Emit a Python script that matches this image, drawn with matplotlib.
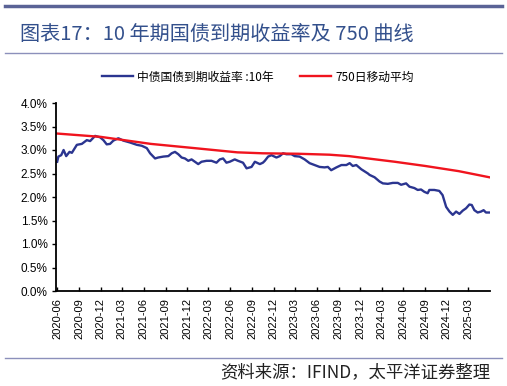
import pandas as pd
import matplotlib
matplotlib.use("Agg")
import matplotlib.pyplot as plt
from matplotlib.lines import Line2D

plt.rcParams['font.family'] = ['Noto Sans CJK SC', 'DejaVu Sans']

# 中债国债到期收益率:10年 (%)
yield_dates = [
    "2020-06-01", "2020-06-06", "2020-06-18", "2020-06-28", "2020-07-09", "2020-07-23",
    "2020-08-02", "2020-08-23", "2020-09-13", "2020-10-04", "2020-10-18", "2020-11-08",
    "2020-11-29", "2020-12-13", "2020-12-27", "2021-01-10", "2021-01-24", "2021-02-14",
    "2021-03-07", "2021-04-04", "2021-05-03", "2021-05-24", "2021-06-14", "2021-06-28",
    "2021-07-19", "2021-08-01", "2021-08-23", "2021-09-13", "2021-09-27", "2021-10-11",
    "2021-10-25", "2021-11-08", "2021-11-22", "2021-12-06", "2021-12-20", "2022-01-03",
    "2022-01-17", "2022-01-31", "2022-02-21", "2022-03-14", "2022-04-04", "2022-04-18",
    "2022-05-02", "2022-05-16", "2022-05-30", "2022-06-20", "2022-07-04", "2022-07-25",
    "2022-08-09", "2022-08-30", "2022-09-13", "2022-10-04", "2022-10-17", "2022-10-25",
    "2022-11-08", "2022-11-22", "2022-12-13", "2022-12-27", "2023-01-10", "2023-01-24",
    "2023-02-14", "2023-02-28", "2023-03-21", "2023-04-11", "2023-05-02", "2023-05-23",
    "2023-06-13", "2023-07-04", "2023-07-18", "2023-08-01", "2023-08-23", "2023-09-13",
    "2023-10-04", "2023-10-18", "2023-10-31", "2023-11-15", "2023-12-06", "2024-01-03",
    "2024-01-10", "2024-01-31", "2024-02-21", "2024-03-06", "2024-03-27", "2024-04-17",
    "2024-05-08", "2024-05-22", "2024-06-12", "2024-06-26", "2024-07-17", "2024-07-31",
    "2024-08-14", "2024-08-28", "2024-09-11", "2024-09-18", "2024-10-09", "2024-10-30",
    "2024-11-13", "2024-11-28", "2024-12-12", "2024-12-26", "2025-01-09", "2025-01-23",
    "2025-02-06", "2025-02-20", "2025-03-06", "2025-03-16", "2025-03-27", "2025-04-10",
    "2025-04-24", "2025-05-05", "2025-05-15", "2025-05-29",
]
yield_vals = [
    2.75, 2.86, 2.89, 3.00, 2.87, 2.96,
    2.94, 3.11, 3.13, 3.21, 3.19, 3.30,
    3.27, 3.21, 3.12, 3.13, 3.20, 3.25,
    3.20, 3.16, 3.11, 3.09, 3.04, 2.93,
    2.82, 2.84, 2.86, 2.87, 2.93, 2.96,
    2.91, 2.84, 2.82, 2.77, 2.80, 2.75,
    2.70, 2.75, 2.77, 2.77, 2.73, 2.80,
    2.82, 2.73, 2.75, 2.80, 2.77, 2.73,
    2.61, 2.64, 2.75, 2.70, 2.73, 2.77,
    2.86, 2.89, 2.84, 2.87, 2.93, 2.91,
    2.91, 2.87, 2.86, 2.80, 2.72, 2.68,
    2.64, 2.63, 2.64, 2.57, 2.63, 2.68,
    2.68, 2.72, 2.66, 2.68, 2.59, 2.50,
    2.47, 2.42, 2.33, 2.29, 2.28, 2.30,
    2.30, 2.26, 2.29, 2.22, 2.19, 2.15,
    2.16, 2.11, 2.08, 2.15, 2.15, 2.13,
    2.04, 1.79, 1.69, 1.62, 1.69, 1.64,
    1.71, 1.76, 1.84, 1.83, 1.72, 1.67,
    1.69, 1.72, 1.67, 1.67,
]

# 750日移动平均 (%)
ma_dates = ["2020-06-01", "2020-12-01", "2021-07-01", "2022-01-01", "2022-07-01",
            "2022-10-15", "2023-03-15", "2023-07-25", "2023-10-15", "2024-01-03",
            "2024-04-25", "2024-09-01", "2025-01-20", "2025-05-29"]
ma_vals = [3.35, 3.28, 3.13, 3.04, 2.95, 2.93, 2.92, 2.90, 2.87, 2.82,
           2.75, 2.66, 2.55, 2.42]

tick_labels = ["2020-06", "2020-09", "2020-12", "2021-03", "2021-06", "2021-09",
               "2021-12", "2022-03", "2022-06", "2022-09", "2022-12", "2023-03",
               "2023-06", "2023-09", "2023-12", "2024-03", "2024-06", "2024-09",
               "2024-12", "2025-03"]

yd = pd.to_datetime(yield_dates)
md = pd.to_datetime(ma_dates)
ticks = pd.to_datetime([t + "-01" for t in tick_labels])

fig = plt.figure(figsize=(5.07, 3.86), dpi=100)
ax = fig.add_axes([56 / 507, 95 / 386, 434 / 507, 188 / 386])

blue = "#2b3590"
red = "#f0141e"
ax.plot(yd, yield_vals, color=blue, lw=1.7)
ax.plot(md, ma_vals, color=red, lw=1.7)

num_font = ['Liberation Sans', 'DejaVu Sans']
ax.set_ylim(0, 4.0)
ax.set_yticks([0, 0.5, 1.0, 1.5, 2.0, 2.5, 3.0, 3.5, 4.0])
ax.set_yticklabels([f"{v:.1f}%" for v in ax.get_yticks()], fontsize=8.5, family=num_font)
ax.set_xlim(pd.Timestamp("2020-05-27"), pd.Timestamp("2025-06-01"))
ax.set_xticks(ticks)
ax.set_xticklabels(tick_labels, rotation=90, fontsize=8, family=num_font)
ax.tick_params(axis="x", direction="in", length=3, width=1, pad=5)
ax.tick_params(axis="y", direction="out", length=3, width=1, pad=3)
for s in ["top", "right"]:
    ax.spines[s].set_visible(False)
for s in ["left", "bottom"]:
    ax.spines[s].set_linewidth(1.3)

# 图例
handles = [Line2D([], [], color=blue, lw=1.7), Line2D([], [], color=red, lw=1.7)]
fig.legend(handles, ["中债国债到期收益率 :10年", "750日移动平均"],
           loc="center", bbox_to_anchor=(258 / 507, 1 - 77 / 386), ncol=2,
           frameon=False, fontsize=8.5, handlelength=2.6, columnspacing=2.2,
           handletextpad=0.4)

# 顶部装饰线与标题
fig.add_artist(Line2D([5 / 507, 502 / 507], [1 - 6 / 386] * 2, color="#5a6396", lw=2.5))
fig.add_artist(Line2D([5 / 507, 502 / 507], [1 - 53 / 386] * 2, color="#8c90bb", lw=1))
fig.text(20 / 507, 1 - 34 / 386, "图表17：10 年期国债到期收益率及 750 曲线",
         fontsize=14.5, color="#33508c", va="center", ha="left")

# 底部
fig.add_artist(Line2D([5 / 507, 502 / 507], [1 - 358 / 386] * 2, color="#8c90bb", lw=1))
fig.text(490 / 507, 1 - 372 / 386, "资料来源：IFIND，太平洋证券整理",
         fontsize=12.5, color="#222222", va="center", ha="right", style="italic")

fig.savefig("out.png", dpi=100)
